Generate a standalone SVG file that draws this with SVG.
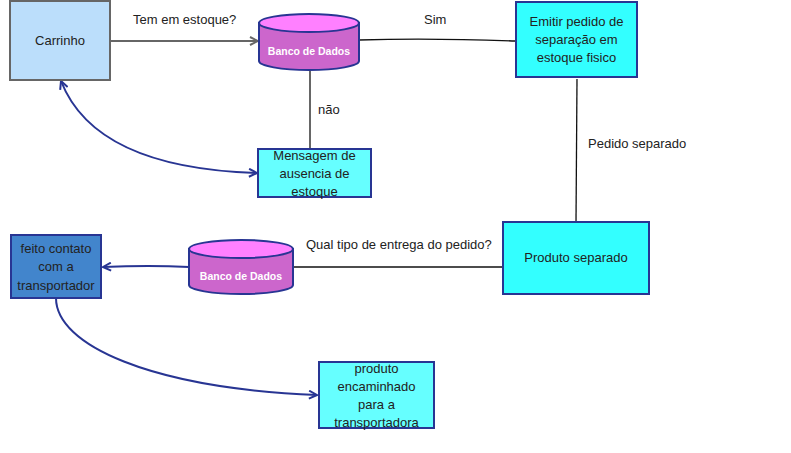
<svg xmlns="http://www.w3.org/2000/svg" width="791" height="453" viewBox="0 0 791 453">
<style>
text{font-family:"Liberation Sans",Arial,sans-serif;font-size:13px;fill:#222;}
.c{text-anchor:middle;}
.db{font-size:10.5px;font-weight:bold;fill:#fff;}
.box{stroke:#283593;stroke-width:2;}
.cyl{stroke:#283593;stroke-width:2;}
.gray{fill:none;stroke:#666;stroke-width:2;}
.blk{fill:none;stroke:#111;stroke-width:1.3;}
.navy{fill:none;stroke:#283593;stroke-width:2;}
</style>
<defs>
<marker id="ag" viewBox="0 0 10 10" refX="9" refY="5" markerWidth="10" markerHeight="10" markerUnits="userSpaceOnUse" orient="auto-start-reverse"><path d="M1 1 L9 5 L1 9" fill="none" stroke="#666" stroke-width="2"/></marker>
<marker id="an" viewBox="0 0 10 10" refX="9" refY="5" markerWidth="10" markerHeight="10" markerUnits="userSpaceOnUse" orient="auto-start-reverse"><path d="M1 1 L9 5 L1 9" fill="none" stroke="#283593" stroke-width="2"/></marker>
</defs>
<rect width="791" height="453" fill="#fff"/>
<g id="connectors">
<path class="gray" d="M111 41 L258 41" marker-end="url(#ag)"/>
<path class="gray" d="M310 71 L310 148"/>
<path class="navy" d="M61 81 Q95 168 257 173" marker-start="url(#an)" marker-end="url(#an)"/>
<path class="blk" d="M359 40 Q430 38 516 41"/>
<path class="blk" d="M577 79 L576 222"/>
<path class="blk" d="M294 267 L503 267"/>
<path class="navy" d="M189 267 Q150 265 103 267" marker-end="url(#an)"/>
<path class="navy" d="M56 298 C56 345 150 388 317 395" marker-end="url(#an)"/>
<text x="133" y="24">Tem em estoque?</text>
<text x="318" y="114">não</text>
<text x="424" y="24">Sim</text>
<text x="588" y="148">Pedido separado</text>
<text x="306" y="249">Qual tipo de entrega do pedido?</text>
</g>
<g id="carrinho">
<rect x="10" y="1" width="100" height="79" fill="#BBDEFB" stroke="#666" stroke-width="2"/>
<text class="c" x="60" y="45">Carrinho</text>
</g>
<g id="bd1">
<path class="cyl" d="M259 23 L259 61 A50 9 0 0 0 359 61 L359 23 Z" fill="#CC66CC"/>
<ellipse class="cyl" cx="309" cy="23" rx="50" ry="9" fill="#FF80FF"/>
<text class="c db" x="309" y="55">Banco de Dados</text>
</g>
<g id="mensagem">
<rect class="box" x="258" y="149" width="113" height="48" fill="#66FFFF"/>
<text class="c" x="314.5" y="160">Mensagem de</text>
<text class="c" x="314.5" y="178">ausencia de</text>
<text class="c" x="314.5" y="196">estoque</text>
</g>
<g id="emitir">
<rect class="box" x="516" y="2" width="121" height="75" fill="#33FFFF"/>
<text class="c" x="576.5" y="26">Emitir pedido de</text>
<text class="c" x="576.5" y="44">separação em</text>
<text class="c" x="576.5" y="62">estoque fisico</text>
</g>
<g id="produto-separado">
<rect class="box" x="503" y="222" width="146" height="72" fill="#33FFFF"/>
<text class="c" x="576" y="262">Produto separado</text>
</g>
<g id="bd2">
<path class="cyl" d="M189 249 L189 285 A52 9 0 0 0 293 285 L293 249 Z" fill="#CC66CC"/>
<ellipse class="cyl" cx="241" cy="249" rx="52" ry="9" fill="#FF80FF"/>
<text class="c db" x="241" y="280">Banco de Dados</text>
</g>
<g id="feito-contato">
<rect class="box" x="11" y="235" width="90" height="63" fill="#4285CC"/>
<text class="c" x="56" y="253">feito contato</text>
<text class="c" x="56" y="271">com a</text>
<text class="c" x="56" y="290">transportador</text>
</g>
<g id="produto-encaminhado">
<rect class="box" x="319" y="362" width="115" height="66" fill="#66FFFF"/>
<text class="c" x="376.5" y="373">produto</text>
<text class="c" x="376.5" y="391">encaminhado</text>
<text class="c" x="376.5" y="409">para a</text>
<text class="c" x="376.5" y="427">transportadora</text>
</g>
</svg>
